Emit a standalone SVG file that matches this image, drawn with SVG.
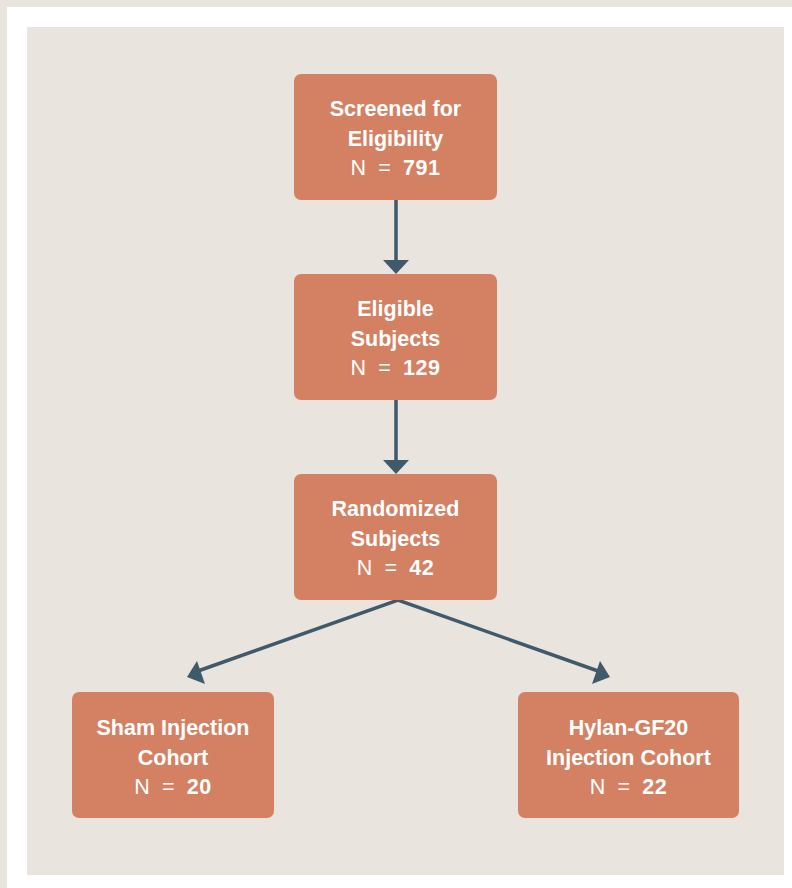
<svg xmlns="http://www.w3.org/2000/svg" width="792" height="888" viewBox="0 0 792 888">
<style>
.box{fill:#d48163}
.t{font-family:"Liberation Sans",Arial,sans-serif;font-size:21.5px;fill:#ffffff;text-anchor:middle;font-weight:bold}
.n{letter-spacing:0.6px;word-spacing:5px}
.r{font-weight:normal}
.c{stroke:#3e5a6b;stroke-width:3.5;fill:none}
.h{fill:#3e5a6b}
</style>
<rect x="0" y="0" width="792" height="888" fill="#e9e4dd"/>
<rect x="7" y="7" width="785" height="881" fill="#ffffff"/>
<rect x="27" y="27" width="757" height="848" fill="#e9e4dd"/>
<g id="connectors">
<line class="c" x1="396" y1="200" x2="396" y2="262"/>
<polygon class="h" points="383,260 409,260 396,274"/>
<line class="c" x1="396" y1="400" x2="396" y2="462"/>
<polygon class="h" points="383,460 409,460 396,474"/>
<polyline class="c" points="198,671 398,600 598,671"/>
<polygon class="h" points="187,677 197,661 205,684"/>
<polygon class="h" points="610,677 600,661 592,684"/>
</g>
<g id="screened">
<rect class="box" x="294" y="74" width="203" height="126" rx="7"/>
<text class="t" x="395.5" y="116">Screened for</text>
<text class="t" x="395.5" y="145.5">Eligibility</text>
<text class="t n" x="395.5" y="175"><tspan class="r">N = </tspan>791</text>
</g>
<g id="eligible">
<rect class="box" x="294" y="274" width="203" height="126" rx="7"/>
<text class="t" x="395.5" y="316">Eligible</text>
<text class="t" x="395.5" y="345.5">Subjects</text>
<text class="t n" x="395.5" y="375"><tspan class="r">N = </tspan>129</text>
</g>
<g id="randomized">
<rect class="box" x="294" y="474" width="203" height="126" rx="7"/>
<text class="t" x="395.5" y="516">Randomized</text>
<text class="t" x="395.5" y="545.5">Subjects</text>
<text class="t n" x="395.5" y="575"><tspan class="r">N = </tspan>42</text>
</g>
<g id="sham">
<rect class="box" x="72" y="692" width="202" height="126" rx="7"/>
<text class="t" x="173" y="735">Sham Injection</text>
<text class="t" x="173" y="764.5">Cohort</text>
<text class="t n" x="173" y="794"><tspan class="r">N = </tspan>20</text>
</g>
<g id="hylan">
<rect class="box" x="518" y="692" width="221" height="126" rx="7"/>
<text class="t" x="628.5" y="735">Hylan-GF20</text>
<text class="t" x="628.5" y="764.5">Injection Cohort</text>
<text class="t n" x="628.5" y="794"><tspan class="r">N = </tspan>22</text>
</g>
</svg>
